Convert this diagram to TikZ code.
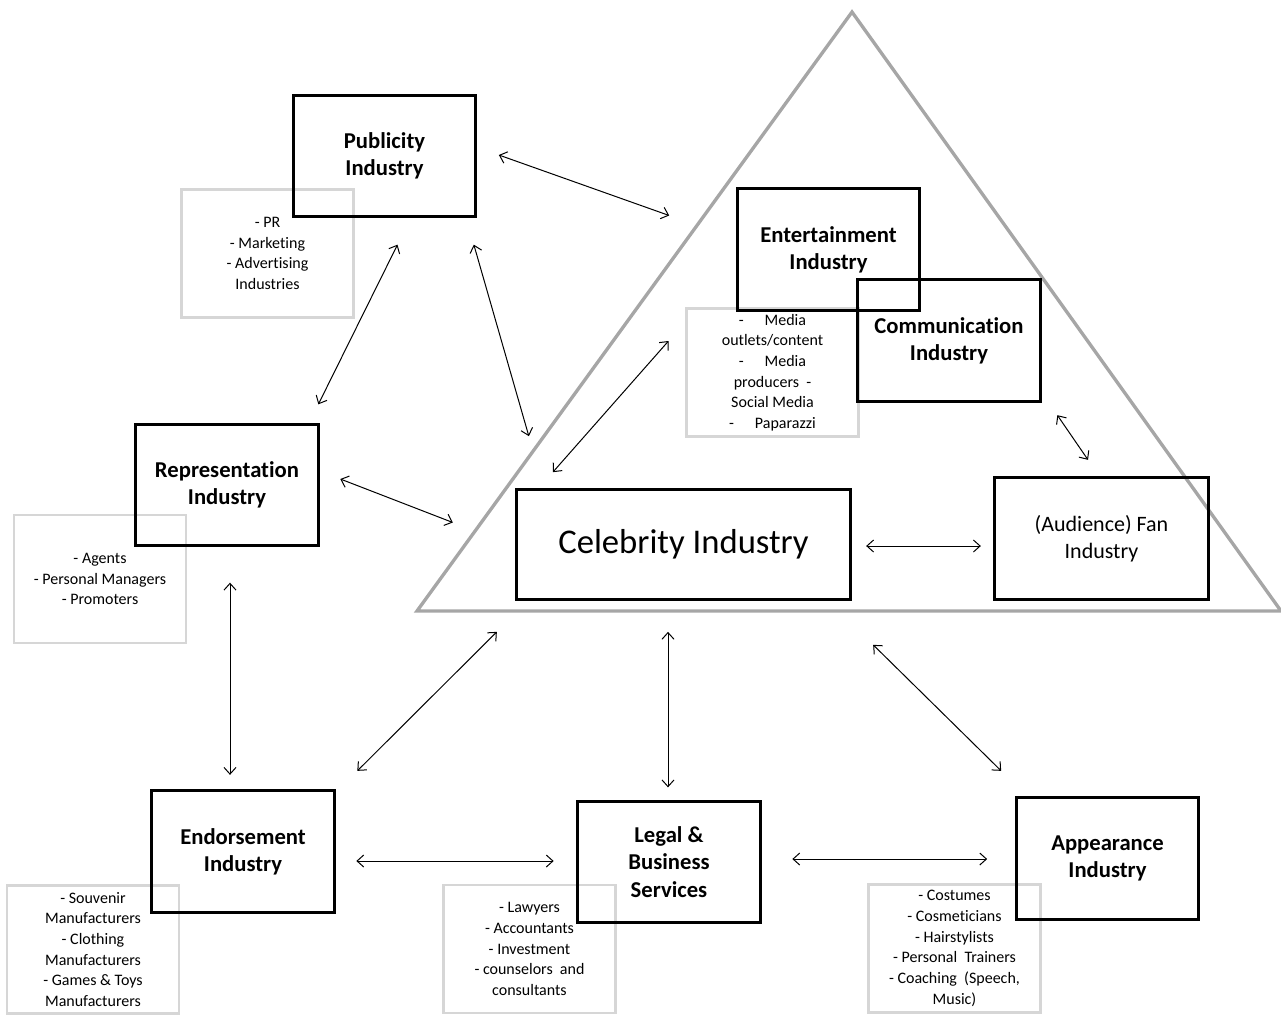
\documentclass[tikz,border=0pt]{standalone}
\usepackage{fontspec}
\setmainfont{Carlito}[Ligatures=NoCommon]
\usetikzlibrary{arrows.meta,calc}

\begin{document}
\begin{tikzpicture}[
    x=0.75pt,
    y=-0.75pt,
    block/.style={
        rectangle,
        draw=black,
        line width=2.4pt,
        minimum width=137pt,
        minimum height=91pt,
        outer sep=0pt,
        align=center,
        font=\fontsize{17}{20.5}\selectfont\bfseries
    },
    listbox/.style={
        rectangle,
        draw=black!16,
        line width=2.2pt,
        minimum width=129pt,
        minimum height=96pt,
        outer sep=0pt,
        align=center,
        font=\fontsize{12}{15.5}\selectfont
    },
    arrow/.style={
        {Straight Barb[length=5pt,width=9pt]}-{Straight Barb[length=5pt,width=9pt]},
        line width=0.75pt
    }
]
\useasboundingbox (0,0) rectangle (1281,1015);

% Triangolo del sistema celebrity
\coordinate (apex) at (852,12);
\coordinate (baseL) at (417,611);
\coordinate (baseR) at (1281,611);
\draw[black!35, line width=2.5pt, line join=miter] (apex) -- (baseL) -- (baseR) -- cycle;

% Liste grigie
\node[listbox] (publist) at (267.5,253.5) {- PR\\- Marketing\\- Advertising\\Industries};
\node[listbox] (medialist) at (772.5,372.5) {-\hspace{1.3em}Media\\outlets/content\\-\hspace{1.3em}Media\\producers\ \ -\\Social Media\\-\hspace{1.3em}Paparazzi};
\node[listbox] (replist) at (100,579) {- Agents\\- Personal Managers\\- Promoters};
\node[listbox] (endlist) at (93,949.5) {- Souvenir\\Manufacturers\\- Clothing\\Manufacturers\\- Games \& Toys\\Manufacturers};
\node[listbox] (legallist) at (529.5,949) {- Lawyers\\- Accountants\\- Investment\\- counselors\ \ and\\consultants};
\node[listbox] (applist) at (954.5,948.5) {- Costumes\\- Cosmeticians\\- Hairstylists\\- Personal\ \ Trainers\\- Coaching\ \ (Speech,\\Music)};

% Industrie
\node[block] (publicity) at (384.5,156) {Publicity\\Industry};
\node[block] (entertain) at (828.5,249.5) {Entertainment\\Industry};
\node[block] (communic) at (949,340.5) {Communication\\Industry};
\node[block] (represent) at (227,485) {Representation\\Industry};
\node[block, minimum width=250pt, minimum height=83pt, font=\fontsize{26}{30}\selectfont] (celebrity) at (683.5,544.5) {Celebrity Industry};
\node[block, minimum width=160pt, font=\fontsize{16.5}{20.5}\selectfont] (fan) at (1101.5,538.5) {(Audience) Fan\\Industry};
\node[block] (endorse) at (243,851.5) {Endorsement\\Industry};
\node[block] (legal) at (669,862) {Legal \&\\Business\\Services};
\node[block] (appear) at (1107.5,858.5) {Appearance\\Industry};

% Collegamenti
\draw[arrow] ($(publicity.east)+(23,-1)$) -- ($(entertain.west)+(-68,-34)$);
\draw[arrow] ($(publicity.south)+(13,28)$) -- ($(represent.north east)+(0,-20)$);
\draw[arrow] ($(publicity.south east)+(-2,28)$) -- ($(celebrity.north west)+(12,-53)$);
\draw[arrow] ($(represent.east)+(22,-6)$) -- ($(celebrity.west)+(-64,-22)$);
\draw[arrow] ($(celebrity.north west)+(36,-17)$) -- ($(medialist.west)+(-18,-31.5)$);
\draw[arrow] ($(communic.south east)+(17,14)$) -- ($(fan.north)+(-13.5,-18)$);
\draw[arrow] ($(celebrity.east)+(16,1.5)$) -- ($(fan.west |- celebrity.east)+(-14,1.5)$);

\draw[arrow] ($(represent.south)+(3,37)$) -- ($(represent.south |- endorse.north)+(3,-16)$);
\draw[arrow] ($(endorse.north east)+(23,-20)$) -- ($(celebrity.south west)+(-20,32)$);
\draw[arrow] ($(legal.north |- celebrity.south)+(-1,32)$) -- ($(legal.north)+(-1,-14)$);
\draw[arrow] ($(celebrity.south east)+(23,45)$) -- ($(appear.north west)+(-15,-27)$);
\draw[arrow] ($(endorse.east)+(22,9.5)$) -- ($(legal.west |- endorse.east)+(-24,9.5)$);
\draw[arrow] ($(legal.east |- appear.west)+(32,0.5)$) -- ($(appear.west)+(-29,0.5)$);

\end{tikzpicture}
\end{document}
